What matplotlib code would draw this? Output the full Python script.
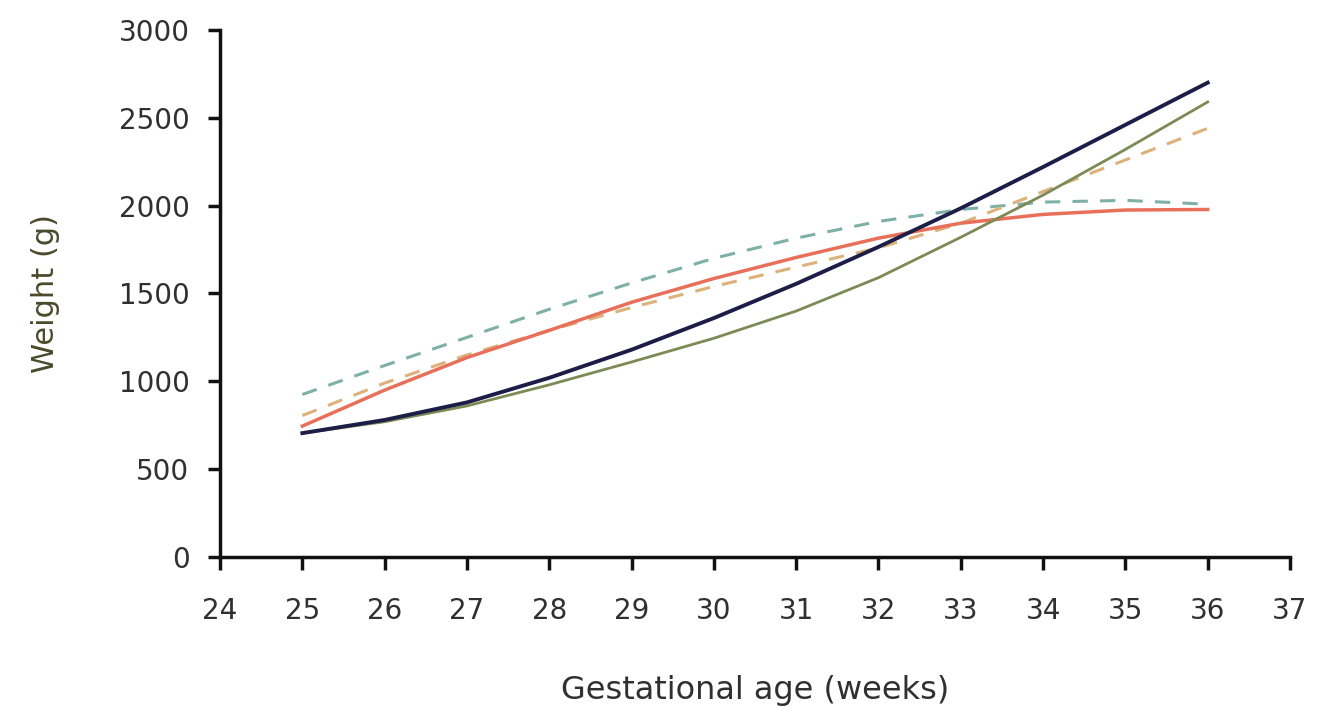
import matplotlib.pyplot as plt

weeks = [25, 26, 27, 28, 29, 30, 31, 32, 33, 34, 35, 36]

navy_solid = [705, 780, 880, 1020, 1180, 1360, 1555, 1765, 1985, 2220, 2460, 2700]
olive_solid = [705, 770, 860, 980, 1110, 1245, 1400, 1590, 1820, 2060, 2320, 2590]
red_solid = [745, 950, 1135, 1290, 1450, 1585, 1705, 1815, 1900, 1950, 1975, 1978]
teal_dashed = [925, 1090, 1250, 1410, 1560, 1700, 1815, 1910, 1978, 2020, 2030, 2008]
tan_dashed = [805, 990, 1150, 1290, 1420, 1540, 1650, 1760, 1900, 2080, 2260, 2440]

xticks = list(range(24, 38))
yticks = [0, 500, 1000, 1500, 2000, 2500, 3000]

text_color = "#303030"

fig = plt.figure(figsize=(13.28, 7.13), dpi=100)
ax = fig.add_axes([0.1657, 0.2188, 0.8057, 0.7392])

ax.plot(weeks, teal_dashed, color="#7fb0a8", lw=2.2, ls=(0, (5, 4)))
ax.plot(weeks, tan_dashed, color="#dcb27a", lw=2.2, ls=(0, (5, 4)))
ax.plot(weeks, red_solid, color="#e8705a", lw=2.5)
ax.plot(weeks, olive_solid, color="#7c8a56", lw=2)
ax.plot(weeks, navy_solid, color="#1c1e48", lw=2.8)

ax.set_xlim(24, 37)
ax.set_ylim(0, 3000)
ax.set_xticks(xticks)
ax.set_yticks(yticks)

for side in ["top", "right"]:
    ax.spines[side].set_visible(False)
for side in ["left", "bottom"]:
    ax.spines[side].set_linewidth(2.5)
    ax.spines[side].set_color("#111111")

ax.tick_params(axis="both", length=9, width=2.5, color="#111111",
               labelsize=20, labelcolor=text_color)
ax.tick_params(axis="x", pad=20)
ax.tick_params(axis="y", pad=13)

ax.set_xlabel("Gestational age (weeks)", fontsize=23, color=text_color, labelpad=36)
ax.set_ylabel("Weight (g)", fontsize=22, color="#4a4a2a", labelpad=42)

plt.savefig("out.png", dpi=100)
